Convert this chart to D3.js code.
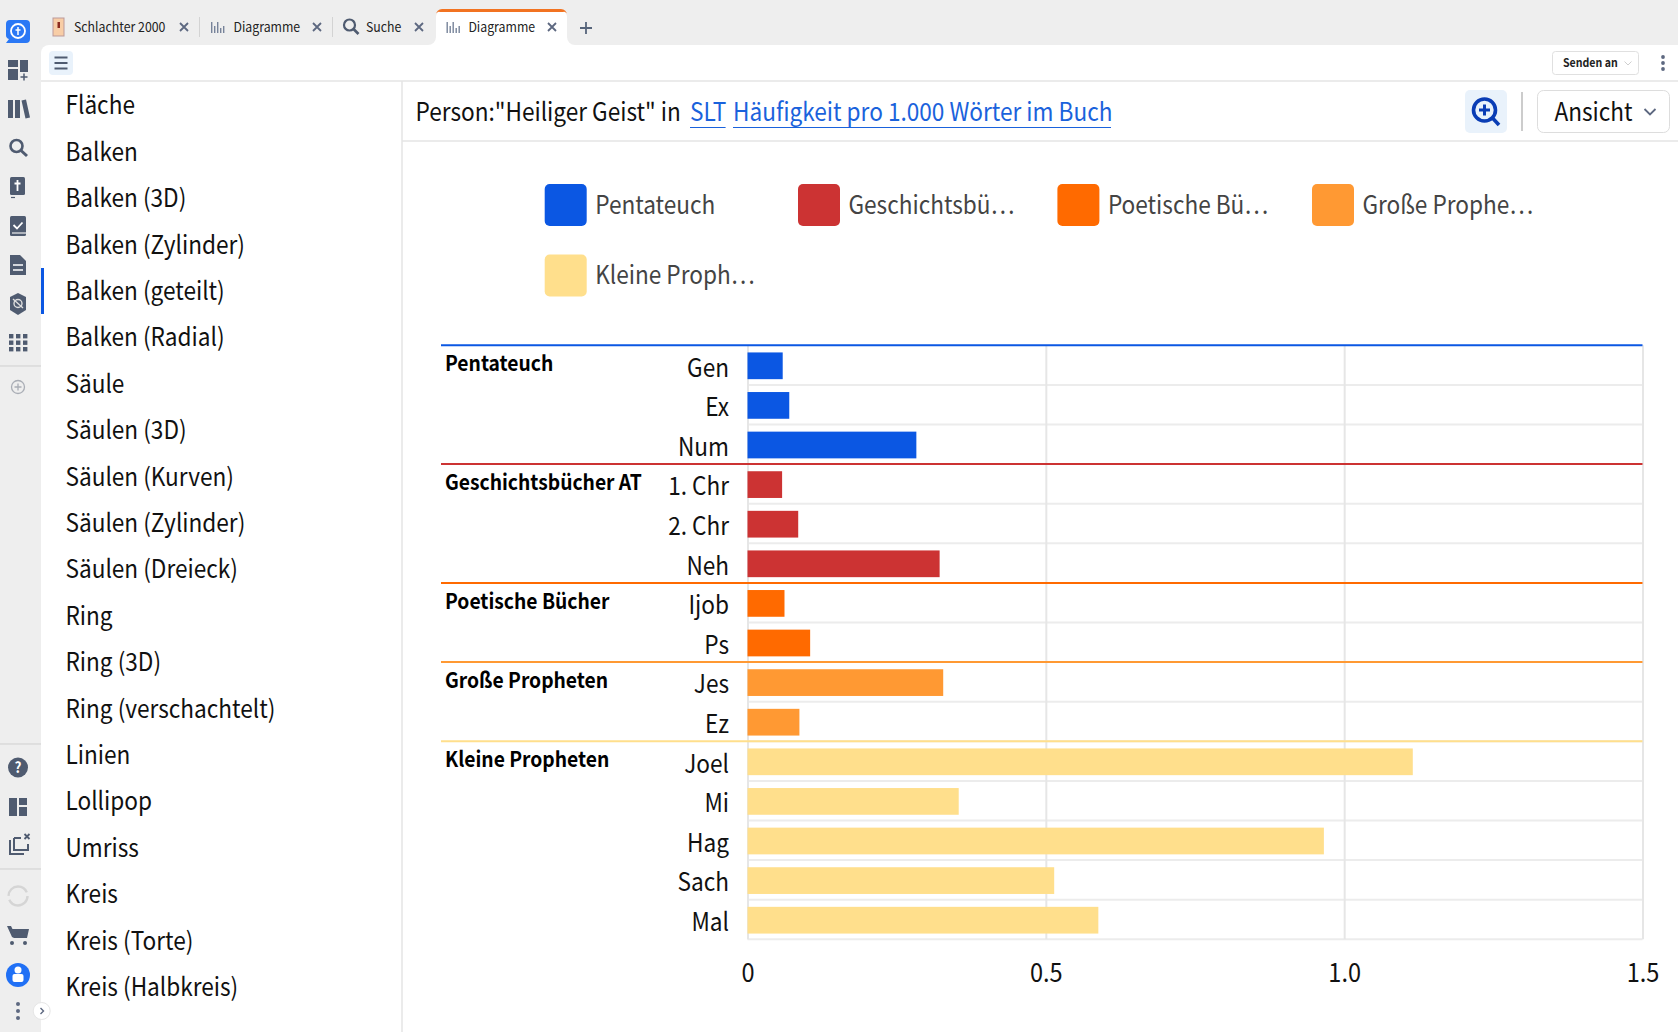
<!DOCTYPE html>
<html>
<head>
<meta charset="utf-8">
<script src="https://cdn.jsdelivr.net/npm/d3@7"></script>
<style>
  html, body { margin: 0; padding: 0; background: #fff; overflow: hidden; }
  svg { display: block; }
  text { font-family: "Noto Sans CJK JP", "Noto Sans", sans-serif; }
</style>
</head>
<body>
<svg id="chart" width="1678" height="1032"></svg>
<script>
// chart data
const groupNames = ["Pentateuch", "Geschichtsbücher AT", "Poetische Bücher", "Große Propheten", "Kleine Propheten"];
const groupColors = ["#0b57e3", "#cc3333", "#ff6a00", "#ff9933", "#ffdf8c"];
const groupBooks = [
  ["Gen", "Ex", "Num"],
  ["1. Chr", "2. Chr", "Neh"],
  ["Ijob", "Ps"],
  ["Jes", "Ez"],
  ["Joel", "Mi", "Hag", "Sach", "Mal"]
];
const groupValues = [
  [0.059, 0.07, 0.283],
  [0.058, 0.085, 0.322],
  [0.062, 0.105],
  [0.328, 0.087],
  [1.115, 0.354, 0.966, 0.514, 0.588]
];
const xTicks = [0, 0.5, 1, 1.5];
const xTickLabels = ["0", "0.5", "1.0", "1.5"];
const legendLabels = ["Pentateuch", "Geschichtsbü…", "Poetische Bü…", "Große Prophe…", "Kleine Proph…"];

// app chrome texts
const chartTypes = ["Fläche", "Balken", "Balken (3D)", "Balken (Zylinder)", "Balken (geteilt)", "Balken (Radial)",
  "Säule", "Säulen (3D)", "Säulen (Kurven)", "Säulen (Zylinder)", "Säulen (Dreieck)", "Ring", "Ring (3D)",
  "Ring (verschachtelt)", "Linien", "Lollipop", "Umriss", "Kreis", "Kreis (Torte)", "Kreis (Halbkreis)"];
const tabTitles = ["Schlachter 2000", "Diagramme", "Suche", "Diagramme"];

const svg = d3.select("#chart");
const slate = "#4f5b70";

// flat rows for the band scale
const rows = groupBooks.flatMap((books, g) => books.map((b, i) => ({ book: b, value: groupValues[g][i], group: g })));

const x = d3.scaleLinear().domain([0, 1.5]).range([747.5, 1642.5]);
const y = d3.scaleBand().domain(rows.map(d => d.book)).range([345.3, 939.3]).paddingInner(0.325).paddingOuter(0.1625);
const rowLine = d3.scaleLinear().domain([0, rows.length]).range([345.3, 939.3]);

// ---- background chrome
svg.append("rect").attr("width", 1678).attr("height", 1032).attr("fill", "#eeeeee");
svg.append("path").attr("fill", "#fff")
  .attr("d", "M41 1032V53a8 8 0 0 1 8-8H1678V1032Z");
svg.append("line").attr("x1", 41).attr("x2", 1678).attr("y1", 81).attr("y2", 81).attr("stroke", "#e4e4e4").attr("stroke-width", 1.5);
svg.append("line").attr("x1", 402).attr("x2", 402).attr("y1", 81).attr("y2", 1032).attr("stroke", "#e4e4e4").attr("stroke-width", 1.5);
svg.append("line").attr("x1", 402).attr("x2", 1678).attr("y1", 141).attr("y2", 141).attr("stroke", "#e4e4e4").attr("stroke-width", 1.5);

// ---- tabs
const tabs = svg.append("g");
tabs.append("path").attr("fill", "#fff").attr("d", "M428 45a8 8 0 0 0 8-8V17a8 8 0 0 1 8-8H559a8 8 0 0 1 8 8V37a8 8 0 0 0 8 8Z");
tabs.append("path").attr("fill", "#f27321").attr("d", "M436 15a6 6 0 0 1 6-6H561a6 6 0 0 1 6 6a3 3 0 0 0-4-3H440a3 3 0 0 0-4 3Z");
[199.5, 332.5].forEach(v => tabs.append("line").attr("x1", v).attr("x2", v).attr("y1", 17).attr("y2", 37).attr("stroke", "#d3d3d3"));

const tabTextX = [74, 233.5, 366, 468.4];
const tabCloseX = [184, 317, 419, 552];
tabTitles.forEach((t, i) => {
  tabs.append("text").attr("x", tabTextX[i]).attr("y", 32).attr("font-size", 13.6).attr("fill", "#222").text(t);
  const c = tabCloseX[i];
  tabs.append("path").attr("d", `M${c - 4} 23L${c + 4} 31M${c + 4} 23L${c - 4} 31`).attr("stroke", "#5d6880").attr("stroke-width", 1.8).attr("fill", "none");
});
// little bar icons in the diagram tabs
[211, 446.5].forEach(ix => {
  [0, 3, 6, 9, 12].forEach((o, k) => {
    const h = [11, 7, 11, 5, 7][k];
    tabs.append("rect").attr("x", ix + o).attr("y", 33 - h).attr("width", 1.4).attr("height", h).attr("fill", "#77839a");
  });
});
// book thumbnail
tabs.append("rect").attr("x", 53).attr("y", 18).attr("width", 11).attr("height", 18).attr("fill", "#f8cda6").attr("stroke", "#b99");
tabs.append("rect").attr("x", 57.5).attr("y", 22).attr("width", 2.5).attr("height", 6).attr("fill", "#8c2a1e");
// search icon of the tab
tabs.append("circle").attr("cx", 349.5).attr("cy", 25).attr("r", 5.5).attr("fill", "none").attr("stroke", slate).attr("stroke-width", 2.2);
tabs.append("line").attr("x1", 353.5).attr("y1", 29).attr("x2", 358.5).attr("y2", 34).attr("stroke", slate).attr("stroke-width", 2.6);
tabs.append("path").attr("d", "M586 22V34M580 28H592").attr("stroke", "#56647a").attr("stroke-width", 1.8);

// ---- toolbar
svg.append("rect").attr("x", 49).attr("y", 51).attr("width", 24).attr("height", 24).attr("rx", 4).attr("fill", "#e9f2fb");
svg.append("path").attr("d", "M54.5 57.5H67.5M54.5 63H67.5M54.5 68.5H67.5").attr("stroke", "#4f5b70").attr("stroke-width", 1.8);
svg.append("rect").attr("x", 1552.5).attr("y", 51.5).attr("width", 86).attr("height", 23).attr("rx", 3).attr("fill", "#fff").attr("stroke", "#e0e0e0");
svg.append("text").attr("x", 1563).attr("y", 67).attr("font-size", 11.7).attr("font-weight", 700).attr("fill", "#222").text("Senden an");
svg.append("path").attr("d", "M1624.5 61.5L1628 65L1631.5 61.5").attr("fill", "none").attr("stroke", "#cfcfcf");
[57, 63, 69].forEach(v => svg.append("circle").attr("cx", 1663).attr("cy", v).attr("r", 1.9).attr("fill", "#5d6880"));

// ---- title line
const title = svg.append("g");
title.append("text").attr("x", 415.5).attr("y", 121).attr("font-size", 25).attr("fill", "#111").text('Person:"Heiliger Geist" in');
title.append("text").attr("x", 690).attr("y", 121).attr("font-size", 25).attr("fill", "#1a62dc").text("SLT");
title.append("text").attr("x", 733).attr("y", 121).attr("font-size", 25).attr("fill", "#1a62dc").text("Häufigkeit pro 1.000 Wörter im Buch");
title.append("path").attr("d", "M690 127.5H725.6M733 127.5H1111").attr("stroke", "#1a62dc").attr("stroke-width", 1);

svg.append("rect").attr("x", 1465).attr("y", 90).attr("width", 42).attr("height", 43).attr("rx", 5).attr("fill", "#e9f2fb");
svg.append("circle").attr("cx", 1484.5).attr("cy", 110).attr("r", 11).attr("fill", "none").attr("stroke", "#0a3db5").attr("stroke-width", 3.6);
svg.append("line").attr("x1", 1492.5).attr("y1", 118).attr("x2", 1499).attr("y2", 125).attr("stroke", "#0a3db5").attr("stroke-width", 3.6);
svg.append("path").attr("d", "M1484.5 104.5V115.5M1479 110H1490").attr("stroke", "#0a3db5").attr("stroke-width", 3);
svg.append("line").attr("x1", 1522).attr("x2", 1522).attr("y1", 92).attr("y2", 131).attr("stroke", "#cccccc").attr("stroke-width", 2);
svg.append("rect").attr("x", 1537.5).attr("y", 90.5).attr("width", 132).attr("height", 42).attr("rx", 6).attr("fill", "#fff").attr("stroke", "#dddddd");
svg.append("text").attr("x", 1554.5).attr("y", 121).attr("font-size", 25).attr("fill", "#111").text("Ansicht");
svg.append("path").attr("d", "M1644.5 109L1650 114.5L1655.5 109").attr("fill", "none").attr("stroke", "#5d6880").attr("stroke-width", 1.8);

// ---- chart type list
svg.append("g").selectAll("text").data(chartTypes).join("text")
  .attr("x", 65.5)
  .attr("y", (d, i) => 114.5 + i * 46.4)
  .attr("font-size", 25)
  .attr("fill", "#111")
  .text(d => d);
svg.append("rect").attr("x", 41).attr("y", 268).attr("width", 3).attr("height", 46).attr("fill", "#0b57e3");

// ---- left icon rail
const rail = svg.append("g");
rail.append("path").attr("fill", "#2a78f5").attr("d", "M10 20h16a4 4 0 0 1 4 4v15a4 4 0 0 1-4 4H6l3-4a4 4 0 0 1-3-4V24a4 4 0 0 1 4-4Z");
rail.append("circle").attr("cx", 18).attr("cy", 31).attr("r", 7).attr("fill", "none").attr("stroke", "#fff").attr("stroke-width", 1.8);
rail.append("path").attr("d", "M18 27V35M15.5 30H20.5").attr("stroke", "#fff").attr("stroke-width", 1.5);
// dashboard add
rail.append("path").attr("fill", slate).attr("d", "M8 60h10v7H8ZM20 60h8v12h-8ZM8 69h10v11H8Z");
rail.append("path").attr("d", "M20.5 77h7M24 73.5v7").attr("stroke", slate).attr("stroke-width", 1.5);
// library
rail.append("path").attr("fill", slate).attr("d", "M8 100h5v18H8ZM15 100h5v18h-5ZM21.5 100.5l4.5-1 4 18-4.5 1Z");
// search
rail.append("circle").attr("cx", 16.5).attr("cy", 146).attr("r", 6).attr("fill", "none").attr("stroke", slate).attr("stroke-width", 2.6);
rail.append("line").attr("x1", 21).attr("y1", 150.5).attr("x2", 27).attr("y2", 156).attr("stroke", slate).attr("stroke-width", 3);
// bible
rail.append("rect").attr("x", 10).attr("y", 177).attr("width", 15).attr("height", 18).attr("rx", 1.5).attr("fill", slate);
rail.append("path").attr("d", "M17.5 180V191M14.5 183.5H20.5").attr("stroke", "#fff").attr("stroke-width", 1.8);
rail.append("line").attr("x1", 11).attr("x2", 15).attr("y1", 197.5).attr("y2", 197.5).attr("stroke", slate).attr("stroke-width", 1.2);
// checked book
rail.append("rect").attr("x", 10).attr("y", 216).attr("width", 16).attr("height", 20).attr("rx", 1.5).attr("fill", slate);
rail.append("path").attr("d", "M13.5 225L17 228.5L22.5 222.5").attr("fill", "none").attr("stroke", "#fff").attr("stroke-width", 1.8);
rail.append("line").attr("x1", 12).attr("x2", 26).attr("y1", 233).attr("y2", 233).attr("stroke", "#eee").attr("stroke-width", 1.2);
// document
rail.append("path").attr("fill", slate).attr("d", "M10 255h10l6 6v14H10Z");
rail.append("path").attr("d", "M13 265H23M13 270H23").attr("stroke", "#fff").attr("stroke-width", 1.6);
// shield
rail.append("path").attr("fill", slate).attr("d", "M18 293l8 4v13l-8 5-8-5v-13Z");
rail.append("circle").attr("cx", 18).attr("cy", 303.5).attr("r", 4).attr("fill", "none").attr("stroke", "#ddd").attr("stroke-width", 1.4);
rail.append("line").attr("x1", 13).attr("y1", 299).attr("x2", 23).attr("y2", 308).attr("stroke", "#ddd").attr("stroke-width", 1.4);
// apps grid
d3.range(3).forEach(r => d3.range(3).forEach(c => {
  rail.append("rect").attr("x", 9 + c * 7).attr("y", 334 + r * 6.5).attr("width", 4.4).attr("height", 4.4).attr("fill", slate);
}));
rail.append("line").attr("x1", 0).attr("x2", 41).attr("y1", 366).attr("y2", 366).attr("stroke", "#cfcfcf");
rail.append("circle").attr("cx", 18).attr("cy", 387).attr("r", 6.5).attr("fill", "none").attr("stroke", "#a9adb5").attr("stroke-width", 1.3);
rail.append("path").attr("d", "M18 383.5V390.5M14.5 387H21.5").attr("stroke", "#a9adb5").attr("stroke-width", 1.3);

rail.append("line").attr("x1", 0).attr("x2", 41).attr("y1", 744).attr("y2", 744).attr("stroke", "#cfcfcf");
rail.append("circle").attr("cx", 18).attr("cy", 767.5).attr("r", 10).attr("fill", slate);
rail.append("text").attr("x", 18).attr("y", 773).attr("text-anchor", "middle").attr("font-size", 15).attr("font-weight", 700).attr("fill", "#fff").text("?");
rail.append("path").attr("fill", slate).attr("d", "M9 798h8v18H9ZM19 798h8v7h-8ZM19 807h8v9h-8Z");
// clone with x
rail.append("path").attr("fill", "none").attr("stroke", slate).attr("stroke-width", 2).attr("d", "M10 840v14h14");
rail.append("path").attr("fill", "none").attr("stroke", slate).attr("stroke-width", 2).attr("d", "M14 838h7M14 838v12h14v-6");
rail.append("path").attr("d", "M24.5 834L29.5 839M29.5 834L24.5 839").attr("stroke", slate).attr("stroke-width", 1.8);
rail.append("line").attr("x1", 0).attr("x2", 41).attr("y1", 869).attr("y2", 869).attr("stroke", "#cfcfcf");
rail.append("circle").attr("cx", 18).attr("cy", 896).attr("r", 9.5).attr("fill", "none").attr("stroke", "#d5d5d5").attr("stroke-width", 2.4).attr("stroke-dasharray", "25.8 4");
rail.append("path").attr("fill", slate).attr("d", "M7 926h4l1.5 3H29l-2 9H14l-2-1Z");
rail.append("circle").attr("cx", 12).attr("cy", 943).attr("r", 2).attr("fill", slate);
rail.append("circle").attr("cx", 25).attr("cy", 943).attr("r", 2).attr("fill", slate);
rail.append("circle").attr("cx", 18).attr("cy", 975).attr("r", 12).attr("fill", "#2070f5");
rail.append("circle").attr("cx", 18).attr("cy", 970).attr("r", 3.5).attr("fill", "#fff");
rail.append("rect").attr("x", 12.5).attr("y", 974).attr("width", 11).attr("height", 8).attr("rx", 2).attr("fill", "#fff");
[1004, 1011, 1018].forEach(v => rail.append("circle").attr("cx", 18).attr("cy", v).attr("r", 2).attr("fill", "#5d6880"));
rail.append("circle").attr("cx", 41.7).attr("cy", 1011).attr("r", 8.5).attr("fill", "#fff").attr("stroke", "#e6e6e6");
rail.append("path").attr("d", "M40.5 1008L43.5 1011L40.5 1014").attr("fill", "none").attr("stroke", "#5d6880").attr("stroke-width", 1.4);

// ---- legend
const legendX = [544.7, 798, 1057.4, 1312, 544.7];
const legendY = [184, 184, 184, 184, 254.5];
const legend = svg.append("g").selectAll("g").data(legendLabels).join("g")
  .attr("transform", (d, i) => `translate(${legendX[i]},${legendY[i]})`);
legend.append("rect").attr("width", 42).attr("height", 42).attr("rx", 5).attr("fill", (d, i) => groupColors[i]);
legend.append("text").attr("x", 50.5).attr("y", (d, i) => i === 4 ? 29.5 : 30).attr("font-size", 25).attr("fill", "#444").text(d => d);

// ---- grid and axes
const plot = svg.append("g");
plot.append("g").selectAll("line").data(d3.range(1, rows.length + 1)).join("line")
  .attr("x1", x(0)).attr("x2", x(1.5))
  .attr("y1", d => rowLine(d)).attr("y2", d => rowLine(d))
  .attr("stroke", "#ececec").attr("stroke-width", 2);

const xAxis = d3.axisBottom(x).tickValues(xTicks).tickFormat((d, i) => xTickLabels[i])
  .tickSize(-(rowLine(rows.length) - rowLine(0))).tickPadding(24);
const xg = plot.append("g").attr("transform", `translate(0,${rowLine(rows.length)})`).call(xAxis);
xg.select(".domain").remove();
xg.selectAll(".tick line").attr("stroke", "#e6e6e6").attr("stroke-width", 2);
xg.selectAll(".tick text").attr("font-size", 26).attr("fill", "#111");
xg.attr("font-family", null).attr("font-size", null);

const yAxis = d3.axisLeft(y).tickSize(0).tickPadding(18.5);
const yg = plot.append("g").attr("transform", `translate(${x(0)},0)`).call(yAxis);
yg.select(".domain").remove();
yg.selectAll(".tick text").attr("font-size", 25).attr("fill", "#111").attr("dy", "0.46em");
yg.attr("font-family", null).attr("font-size", null);

// ---- bars
plot.append("g").selectAll("rect").data(rows).join("rect")
  .attr("x", x(0))
  .attr("y", d => y(d.book) + 0.7)
  .attr("width", d => x(d.value) - x(0))
  .attr("height", y.bandwidth())
  .attr("fill", d => groupColors[d.group]);

// ---- group header lines and names
let start = 0;
groupNames.forEach((name, g) => {
  plot.append("line").attr("x1", 441).attr("x2", x(1.5))
    .attr("y1", rowLine(start)).attr("y2", rowLine(start))
    .attr("stroke", groupColors[g]).attr("stroke-width", 2);
  plot.append("text").attr("x", 445).attr("y", rowLine(start) + 26)
    .attr("font-size", 21.3).attr("font-weight", 700).attr("fill", "#000").text(name);
  start += groupBooks[g].length;
});

// the reference shot is squeezed sideways, so narrow all text the same way
svg.selectAll("text").each(function () {
  const tx = +this.getAttribute("x") || 0;
  d3.select(this).attr("transform", `translate(${tx},0) scale(0.905,1) translate(${-tx},0)`);
});
</script>
</body>
</html>
